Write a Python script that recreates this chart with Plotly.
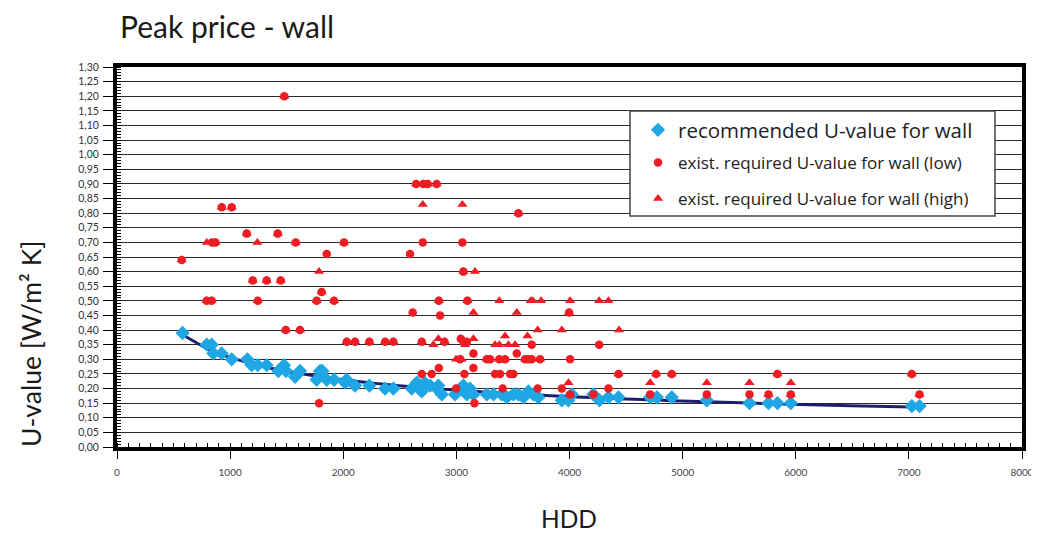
import numpy as np
import plotly.graph_objects as go

# ---------------- data ----------------
rec_hdd = [580, 793, 837, 852, 925, 1014, 1152, 1191, 1244, 1323,
           1426, 1476, 1494, 1574, 1618, 1765, 1795, 1815, 1854, 1919,
           2016, 2030, 2104, 2231, 2370, 2443, 2605, 2650, 2694, 2720,
           2768, 2826, 2840, 2871, 2988, 3033, 3062, 3092, 3121, 3150,
           3269, 3328, 3401, 3446, 3505, 3549, 3593, 3637, 3681, 3725,
           3932, 3990, 4020, 4211, 4265, 4344, 4433, 4713, 4772, 4904,
           5214, 5591, 5759, 5838, 5956, 7026, 7094]
rec_u = [0.39, 0.35, 0.35, 0.32, 0.32, 0.30, 0.30, 0.28, 0.28, 0.28,
         0.26, 0.28, 0.26, 0.24, 0.26, 0.23, 0.26, 0.26, 0.23, 0.23,
         0.22, 0.23, 0.21, 0.21, 0.20, 0.20, 0.20, 0.22, 0.19, 0.22,
         0.21, 0.20, 0.21, 0.18, 0.18, 0.20, 0.21, 0.18, 0.20, 0.18,
         0.18, 0.18, 0.18, 0.17, 0.18, 0.18, 0.17, 0.19, 0.18, 0.17,
         0.16, 0.16, 0.18, 0.18, 0.16, 0.17, 0.17, 0.17, 0.17, 0.17,
         0.16, 0.15, 0.15, 0.15, 0.15, 0.14, 0.14]

low_hdd = [572, 793, 837, 840, 870, 926, 1014, 1147, 1200, 1244,
           1323, 1421, 1447, 1479, 1492, 1580, 1618, 1765, 1786, 1809,
           1854, 1919, 2007, 2031, 2104, 2231, 2370, 2443, 2590, 2614,
           2644, 2694, 2694, 2703, 2708, 2747, 2782, 2826, 2845, 2845,
           2856, 2895, 2997, 3033, 3039, 3053, 3062, 3062, 3071, 3092,
           3098, 3151, 3151, 3160, 3269, 3298, 3342, 3380, 3386, 3410,
           3430, 3475, 3504, 3534, 3548, 3607, 3637, 3666, 3666, 3719,
           3740, 3932, 3996, 4005, 4005, 4211, 4262, 4344, 4433, 4713,
           4766, 4904, 5214, 5591, 5759, 5838, 5956, 7026, 7094]
low_u = [0.64, 0.50, 0.50, 0.70, 0.70, 0.82, 0.82, 0.73, 0.57, 0.50,
         0.57, 0.73, 0.57, 1.20, 0.40, 0.70, 0.40, 0.50, 0.15, 0.53,
         0.66, 0.50, 0.70, 0.36, 0.36, 0.36, 0.36, 0.36, 0.66, 0.46,
         0.90, 0.36, 0.25, 0.70, 0.90, 0.90, 0.25, 0.90, 0.50, 0.27,
         0.45, 0.36, 0.20, 0.30, 0.37, 0.70, 0.60, 0.36, 0.25, 0.36,
         0.50, 0.32, 0.27, 0.15, 0.30, 0.30, 0.25, 0.30, 0.25, 0.20,
         0.30, 0.25, 0.25, 0.32, 0.80, 0.30, 0.30, 0.30, 0.35, 0.20,
         0.30, 0.20, 0.46, 0.30, 0.18, 0.18, 0.35, 0.20, 0.25, 0.18,
         0.25, 0.25, 0.18, 0.18, 0.18, 0.25, 0.18, 0.25, 0.18]

high_hdd = [572, 793, 793, 837, 870, 926, 1014, 1147, 1200, 1241,
            1244, 1323, 1421, 1447, 1479, 1492, 1580, 1618, 1765, 1786,
            1809, 1919, 2007, 2031, 2104, 2231, 2370, 2443, 2644, 2694,
            2703, 2708, 2747, 2797, 2826, 2841, 2845, 2895, 2997, 3033,
            3047, 3053, 3062, 3077, 3098, 3151, 3151, 3165, 3269, 3298,
            3342, 3380, 3380, 3380, 3430, 3430, 3460, 3519, 3534, 3548,
            3607, 3628, 3637, 3657, 3666, 3675, 3719, 3740, 3749, 3932,
            3991, 3996, 4005, 4005, 4262, 4344, 4433, 4438, 4713, 4766,
            4904, 5214, 5591, 5759, 5838, 5956, 5956, 7026, 7094]
high_u = [0.64, 0.50, 0.70, 0.50, 0.70, 0.82, 0.82, 0.73, 0.57, 0.70,
          0.50, 0.57, 0.73, 0.57, 1.20, 0.40, 0.70, 0.40, 0.50, 0.60,
          0.53, 0.50, 0.70, 0.36, 0.36, 0.36, 0.36, 0.36, 0.90, 0.36,
          0.83, 0.90, 0.90, 0.35, 0.90, 0.37, 0.50, 0.36, 0.30, 0.30,
          0.30, 0.83, 0.60, 0.35, 0.50, 0.46, 0.37, 0.60, 0.30, 0.30,
          0.35, 0.35, 0.50, 0.30, 0.30, 0.38, 0.35, 0.35, 0.46, 0.80,
          0.30, 0.38, 0.30, 0.50, 0.30, 0.50, 0.40, 0.30, 0.50, 0.40,
          0.22, 0.46, 0.50, 0.18, 0.50, 0.50, 0.25, 0.40, 0.22, 0.25,
          0.25, 0.22, 0.22, 0.18, 0.25, 0.22, 0.18, 0.25, 0.18]

x_ticks = [0, 1000, 2000, 3000, 4000, 5000, 6000, 7000, 8000]

title_text = "Peak price - wall"
x_title = "HDD"
y_title = "U-value [W/m² K]"
name_rec = "recommended U-value for wall"
name_low = "exist. required U-value for wall (low)"
name_high = "exist. required U-value for wall (high)"

# ---------------- styles ----------------
BLUE = "#1EA7E4"
RED = "#EE1D23"
NAVY = "#1E1E6E"
FONT = "Lato"
LFONT = "Open Sans"

# power trendline fitted on the recommended series (as in the spreadsheet)
lx = np.log(np.array(rec_hdd, dtype=float))
ly = np.log(np.array(rec_u, dtype=float))
b, a = np.polyfit(lx, ly, 1)
trend_x = np.array(sorted(rec_hdd), dtype=float)
trend_y = np.exp(a) * trend_x ** b

fig = go.Figure()
fig.add_trace(go.Scatter(x=trend_x, y=trend_y, mode="lines", line=dict(color=NAVY, width=3, shape="spline"),
                         showlegend=False, hoverinfo="skip"))
fig.add_trace(go.Scatter(x=rec_hdd, y=rec_u, mode="markers", name=name_rec, legend="legend",
                         marker=dict(symbol="diamond", size=11, color=BLUE)))
fig.add_trace(go.Scatter(x=high_hdd, y=high_u, mode="markers", name=name_high, legend="legend3",
                         marker=dict(symbol="triangle-up", size=9, color=RED)))
fig.add_trace(go.Scatter(x=low_hdd, y=low_u, mode="markers", name=name_low, legend="legend2",
                         marker=dict(symbol="circle", size=8.5, color=RED)))

# The page body has an 8px margin: the figure is drawn at (8, 8) in the window.
OFF = 8
PL, PR, PT, PB = 117, 1022, 67, 447      # plot area in window pixels
W, H = 1039 - OFF, 533 - OFF
L, T = PL - OFF, PT - OFF
R = W - (PR - OFF)
B = H - (PB - OFF)


def px_x(p):
    return (p - PL) / (PR - PL)


def px_y(p):
    return (PB - p) / (PB - PT)


legend_common = dict(bgcolor="rgba(0,0,0,0)", borderwidth=0, xanchor="left", yanchor="middle",
                     itemwidth=30)

fig.update_layout(
    width=W, height=H,
    margin=dict(l=L, r=R, t=T, b=B, autoexpand=False),
    paper_bgcolor="white", plot_bgcolor="white",
    separators=", ",
    font=dict(family=FONT, color="#222"),
    title=dict(text=title_text, x=(120 - OFF) / W, xanchor="left", y=1 - (27 - OFF) / H, yanchor="middle",
               font=dict(size=30, family=FONT, color="#1a1a1a")),
    xaxis=dict(range=[0, 8000], tickvals=x_ticks, ticks="outside", ticklen=8, tickwidth=1, tickcolor="black",
               showgrid=False, zeroline=False, showline=True, linewidth=4, linecolor="black", mirror=True,
               automargin=False,
               tickfont=dict(size=10, family=FONT, color="#444"), ticklabelstandoff=5,
               minor=dict(dtick=100, ticks="inside", ticklen=4, tickcolor="black", showgrid=False)),
    yaxis=dict(range=[0, 1.30], dtick=0.05, tick0=0, tickformat=".2f", ticks="outside", ticklen=10,
               tickwidth=1, tickcolor="black", showgrid=True, gridcolor="#2a2a2a", gridwidth=1,
               zeroline=False, showline=True, linewidth=4, linecolor="black", mirror=True,
               automargin=False,
               tickfont=dict(size=10.5, family=FONT, color="#333"), ticklabelstandoff=2,
               minor=dict(dtick=0.01, ticks="inside", ticklen=4, tickcolor="black", showgrid=False)),
    legend=dict(x=px_x(638), y=px_y(130), font=dict(size=20.5, family=LFONT, color="#222"), **legend_common),
    legend2=dict(x=px_x(638), y=px_y(163), font=dict(size=17, family=LFONT, color="#222"), **legend_common),
    legend3=dict(x=px_x(638), y=px_y(199), font=dict(size=17, family=LFONT, color="#222"), **legend_common),
    shapes=[dict(type="rect", xref="paper", yref="paper", x0=px_x(630), x1=px_x(995), y0=px_y(216), y1=px_y(111),
                 fillcolor="white", line=dict(color="#444", width=1.5), layer="above")],
    annotations=[
        dict(text=y_title, xref="paper", yref="paper", x=px_x(31), y=px_y(344), textangle=-90,
             showarrow=False, xanchor="center", yanchor="middle", font=dict(size=26.5, family=FONT, color="#1a1a1a")),
        dict(text=x_title, xref="paper", yref="paper", x=px_x(569), y=px_y(519),
             showarrow=False, xanchor="center", yanchor="middle", font=dict(size=24.5, family=FONT, color="#1a1a1a")),
    ],
)

fig.write_html("out.html")
